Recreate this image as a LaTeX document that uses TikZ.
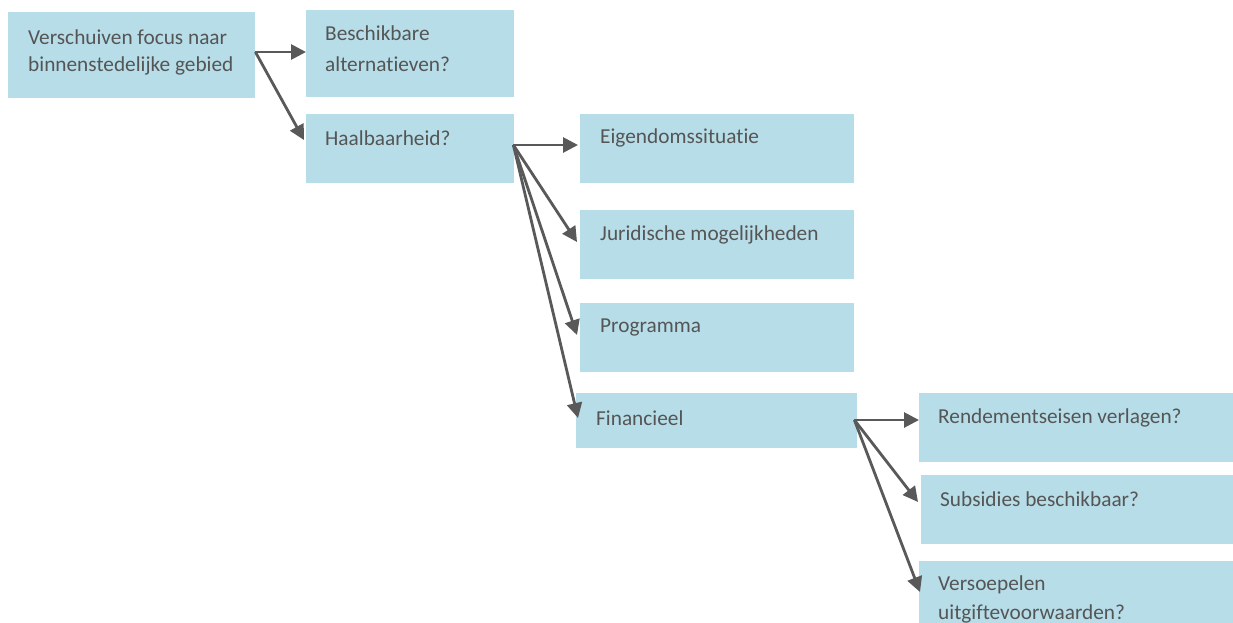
\documentclass[tikz,border=0pt]{standalone}
\usepackage{fontspec}
\setmainfont{Carlito}[Ligatures={NoCommon}]
\usetikzlibrary{arrows.meta,calc}
\definecolor{boxblue}{HTML}{B7DDE8}
\definecolor{txtgray}{HTML}{555555}
\definecolor{arrgray}{HTML}{595959}
\begin{document}
\begin{tikzpicture}[x=1pt,y=-1pt,
  boxnode/.style={anchor=north west,fill=boxblue,draw=none,inner sep=0pt},
  txt/.style={anchor=west,inner sep=0pt,text=txtgray,font=\fontsize{21.3}{29}\selectfont,align=left},
  conn/.style={draw=arrgray,line width=2.8pt,-{Triangle[length=15pt,width=15pt]}}]
\clip (0,0) rectangle (1233,622);
\fill[white] (0,0) rectangle (1233,622);
% boxes
\node[boxnode,minimum width=247pt,minimum height=86pt] (b1) at (8,12) {};
\node[boxnode,minimum width=208pt,minimum height=87pt] (b2) at (306,10) {};
\node[boxnode,minimum width=208pt,minimum height=69pt] (b3) at (306,114) {};
\node[boxnode,minimum width=274pt,minimum height=69pt] (b4) at (580,114) {};
\node[boxnode,minimum width=274pt,minimum height=69pt] (b5) at (580,210) {};
\node[boxnode,minimum width=274pt,minimum height=69pt] (b6) at (580,303) {};
\node[boxnode,minimum width=281pt,minimum height=55pt] (b7) at (576,393) {};
\node[boxnode,minimum width=314pt,minimum height=69pt] (b8) at (919,393) {};
\node[boxnode,minimum width=312pt,minimum height=69pt] (b9) at (921,475) {};
\node[boxnode,minimum width=314pt,minimum height=75pt] (b10) at (919,561) {};
% texts
\node[txt] (t1a) at (28,37) {Verschuiven focus naar};
\node[txt] (t1b) at (28,66) {binnenstedelijke gebied};
\node[txt] (t2a) at (325,33) {Beschikbare};
\node[txt] (t2b) at (325,64) {alternatieven?};
\node[txt] (t3) at (325,138) {Haalbaarheid?};
\node[txt] (t4) at (600,138) {Eigendomssituatie};
\node[txt] (t5) at (600,235) {Juridische mogelijkheden};
\node[txt] (t6) at (600,327) {Programma};
\node[txt] (t7) at (596,418) {Financieel};
\node[txt] (t8) at (938,418) {Rendementseisen verlagen?};
\node[txt] (t9) at (940,499) {Subsidies beschikbaar?};
\node[txt] (t10a) at (938,585) {Versoepelen};
\node[txt] (t10b) at (938,614) {uitgiftevoorwaarden?};
% connector origins
\coordinate (o1) at ($(b1.north east)+(0,40)$);
\coordinate (o3) at ($(b3.north east)+(-1,31)$);
\coordinate (o7) at ($(b7.north east)+(-3,27)$);
% connectors
\draw[conn] (o1) -- ($(b2.north west)+(0,42)$);
\draw[conn] (o1) -- ($(b3.north west)+(-2,26)$);
\draw[conn] (o3) -- ($(b4.north west)+(-2,31)$);
\draw[conn] (o3) -- ($(b5.north west)+(-3,32)$);
\draw[conn] (o3) -- ($(b6.north west)+(-3,32)$);
\draw[conn] (o3) -- ($(b7.north west)+(2,25)$);
\draw[conn] (o7) -- ($(b8.north west)+(0,27)$);
\draw[conn] (o7) -- ($(b9.north west)+(-3,27)$);
\draw[conn] (o7) -- ($(b10.north west)+(1,31)$);
\end{tikzpicture}
\end{document}
